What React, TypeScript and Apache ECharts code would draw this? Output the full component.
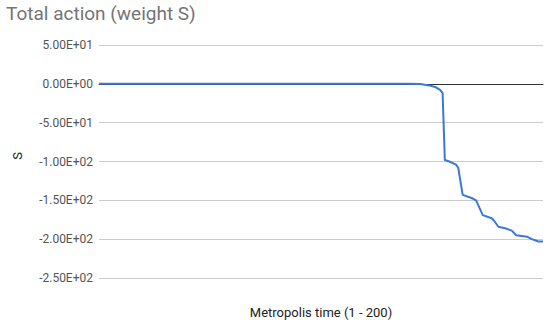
import React, { useEffect, useRef } from "react";
import * as echarts from "echarts";

const titleText = "Total action (weight S)";
const yAxisTitle = "S";
const xAxisTitle = "Metropolis time (1 - 200)";

// [metropolis step, total action S]
const actionPoints: [number, number][] = [
  [1, 0], [60, 0], [120, 0], [140, 0], [145, -0.3], [149, -2], [152, -4.5],
  [154, -8], [155, -12], [156, -98], [158, -100], [161, -104], [162, -108],
  [164, -143], [168, -147], [170, -150], [173, -169], [177, -173], [178, -176],
  [180, -184], [183, -186], [186, -189], [188, -195], [193, -197], [195, -200],
  [198, -203], [200, -203],
];

const yMin = -250;
const yMax = 50;
const yStep = 50;

function fmtE(v: number): string {
  const s = v.toExponential(2); // e.g. 5.00e+1
  const [m, e] = s.split("e");
  const sign = e[0] === "-" ? "-" : "+";
  const digits = e.replace(/[+-]/, "").padStart(2, "0");
  return `${m}E${sign}${digits}`;
}

export default function App() {
  const ref = useRef<HTMLDivElement>(null);
  useEffect(() => {
    document.body.style.margin = "0";
    if (!ref.current) return;
    const chart = echarts.init(ref.current, null, { renderer: "svg" });
    chart.setOption({
      animation: false,
      backgroundColor: "#ffffff",
      textStyle: { fontFamily: "Roboto" },
      grid: { left: 99, right: 7, top: 45, bottom: 49, containLabel: false },
      graphic: [
        {
          type: "text",
          left: 6,
          top: 4,
          style: { text: titleText, fontSize: 19, fill: "#757575", fontFamily: "Roboto" },
        },
        {
          type: "text",
          x: 17,
          y: 156,
          rotation: Math.PI / 2,
          style: {
            text: yAxisTitle,
            fontSize: 13,
            fill: "#222222",
            fontFamily: "Roboto",
            align: "center",
            verticalAlign: "middle",
          },
        },
        {
          type: "text",
          x: 321,
          y: 312,
          style: {
            text: xAxisTitle,
            fontSize: 13,
            fill: "#222222",
            fontFamily: "Roboto",
            align: "center",
            verticalAlign: "middle",
          },
        },
      ],
      xAxis: {
        type: "value",
        min: 1,
        max: 200,
        axisLabel: { show: false },
        axisTick: { show: false },
        splitLine: { show: false },
        axisLine: { show: true, onZero: true, lineStyle: { color: "#333333", width: 1 } },
      },
      yAxis: {
        type: "value",
        min: yMin,
        max: yMax,
        interval: yStep,
        axisLine: { show: false },
        axisTick: { show: false },
        axisLabel: {
          formatter: (v: number) => fmtE(v),
          color: "#555555",
          fontSize: 12,
          margin: 6,
          fontFamily: "Roboto",
        },
        splitLine: { lineStyle: { color: "#cccccc", width: 1 } },
      },
      series: [
        {
          type: "line",
          data: actionPoints,
          showSymbol: false,
          symbol: "none",
          smooth: false,
          lineStyle: { color: "#3a78dc", width: 2 },
          z: 3,
        },
      ],
    });
    return () => chart.dispose();
  }, []);
  return <div ref={ref} style={{ width: 550, height: 327 }} />;
}
